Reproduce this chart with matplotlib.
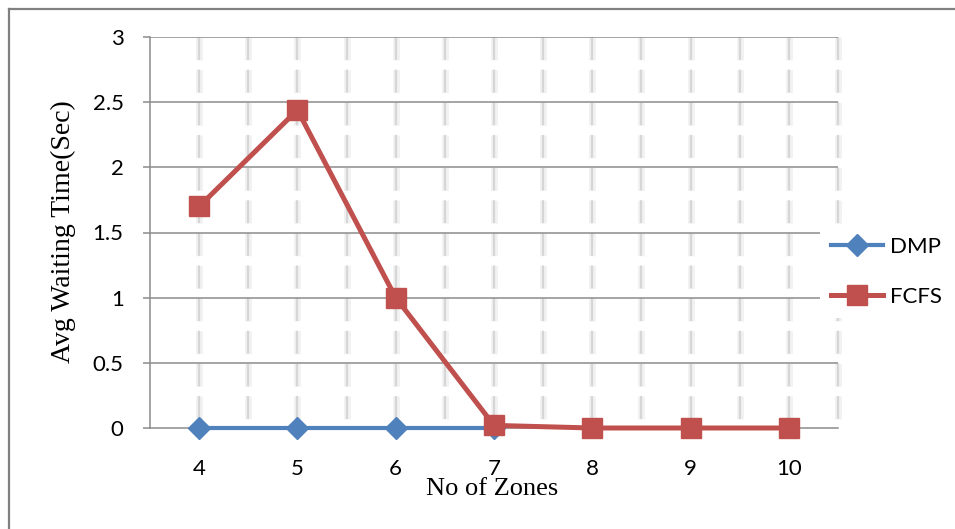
import matplotlib.pyplot as plt
from matplotlib.lines import Line2D

zones = [4, 5, 6, 7, 8, 9, 10]
fcfs = [1.7, 2.44, 1.0, 0.02, 0.0, 0.0, 0.0]
dmp_zones = [4, 5, 6, 7]
dmp = [0.0, 0.0, 0.0, 0.0]
yticks = [0, 0.5, 1, 1.5, 2, 2.5, 3]

blue = '#4F81BD'
red = '#C0504D'
grid_gray = '#8c8c8c'

plt.rcParams['lines.scale_dashes'] = False

fig = plt.figure(figsize=(9.55, 5.29), dpi=100)
ax = fig.add_axes([150/955, 1-428/529, (838-150)/955, (428-37)/529])
ax.set_xlim(3.5, 10.5)
ax.set_ylim(0, 3)

# soft dashed vertical grid at every half step
for i in range(14):
    x = 4 + 0.5*i
    ax.plot([x, x], [3, 0], color='#f2f2f2', lw=5, solid_capstyle='butt', zorder=0.5,
            dashes=(16.5, 7), clip_on=False)
    ax.plot([x, x], [3, 0], color='#d6d6d6', lw=1.6, zorder=0.6,
            dashes=(16.5, 7), clip_on=False)

for y in yticks[1:]:
    ax.axhline(y, color=grid_gray, lw=1.1, zorder=1)

for s in ['top', 'right']:
    ax.spines[s].set_visible(False)
for s in ['left', 'bottom']:
    ax.spines[s].set_color(grid_gray)
    ax.spines[s].set_linewidth(1.1)

ax.plot(dmp_zones, dmp, color=blue, lw=3, marker='D', ms=11, zorder=3, clip_on=False)
ax.plot(zones, fcfs, color=red, lw=3.6, marker='s', ms=14, zorder=4, clip_on=False)

ax.set_yticks(yticks)
ax.set_yticklabels(['0', '0.5', '1', '1.5', '2', '2.5', '3'])
ax.set_xticks(zones)
ax.tick_params(axis='y', length=5, width=1.1, color=grid_gray, pad=14, labelsize=16)
ax.tick_params(axis='x', length=0, pad=22, labelsize=16)
for lab in ax.get_xticklabels() + ax.get_yticklabels():
    lab.set_fontfamily('Lato')

fig.text(63/955, 1-232/529, 'Avg Waiting Time(Sec)', family='Liberation Serif',
         fontsize=20, rotation=90, ha='center', va='center')
fig.text(492/955, 1-489/529, 'No of Zones', family='Liberation Serif', fontsize=19,
         ha='center', va='center')

handles = [Line2D([], [], color=blue, lw=3, marker='D', ms=11),
           Line2D([], [], color=red, lw=3.6, marker='s', ms=14)]
leg = fig.legend(handles, ['DMP', 'FCFS'], loc='center left',
                 bbox_to_anchor=(820/955, 1-272/529), frameon=True,
                 prop={'family': 'Lato', 'size': 16}, handlelength=2.35,
                 handletextpad=0.3, labelspacing=1.35, borderpad=0.5,
                 borderaxespad=0)
leg.get_frame().set_facecolor('white')
leg.get_frame().set_edgecolor('none')
leg.get_frame().set_alpha(1)

# frame lines along top and left
fig.add_artist(Line2D([9/955, 1], [1-9/529, 1-9/529], color='#808080', lw=1.6))
fig.add_artist(Line2D([9/955, 9/955], [0, 1-9/529], color='#808080', lw=1.6))

fig.savefig('out.png', dpi=100)
